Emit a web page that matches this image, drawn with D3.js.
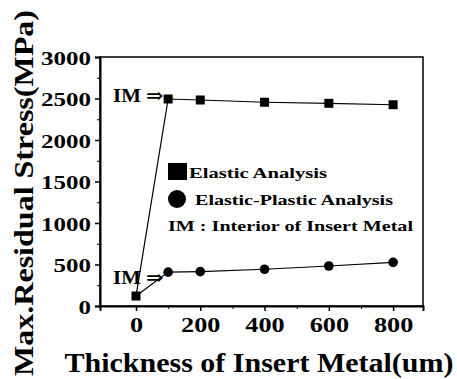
<!DOCTYPE html>
<html>
<head>
<meta charset="utf-8">
<script src="https://cdn.jsdelivr.net/npm/d3@7"></script>
<style>
  html, body { margin: 0; padding: 0; background: #fff; }
  svg { display: block; }
  text { font-family: "Liberation Serif", "Times New Roman", "DejaVu Serif", serif; font-weight: bold; fill: #000; }
</style>
</head>
<body>
<svg id="chart" width="457" height="379"></svg>
<script>
// Insert metal thickness (um) and maximum residual stress (MPa)
const thickness = [0, 100, 200, 400, 600, 800];
const elasticStress = [120, 2494, 2482, 2455, 2442, 2425];
const elasticPlasticStress = [120, 408, 414, 443, 482, 526];

const xMajorTicks = [0, 200, 400, 600, 800];
const xMinorTicks = [100, 300, 500, 700];
const yMajorTicks = [0, 500, 1000, 1500, 2000, 2500, 3000];
const yMinorTicks = [250, 750, 1250, 1750, 2250, 2750];

const legendLabels = ["Elastic Analysis", "Elastic-Plastic Analysis", "IM : Interior of Insert Metal"];
const annotationText = "IM \u21D2";

const svg = d3.select("#chart");
const plot = { left: 100, right: 423, top: 57, bottom: 306 };

const x = d3.scaleLinear().domain([-112, 893]).range([plot.left, plot.right]);
const y = d3.scaleLinear().domain([0, 3000]).range([plot.bottom, plot.top]);

// widen glyphs horizontally by a factor
function stretch(sel, k) {
  sel.each(function () {
    const w = this.getComputedTextLength();
    d3.select(this).attr("textLength", w * k).attr("lengthAdjust", "spacingAndGlyphs");
  });
}

// frame
svg.append("rect")
  .attr("x", plot.left).attr("y", plot.top)
  .attr("width", plot.right - plot.left).attr("height", plot.bottom - plot.top)
  .attr("fill", "none").attr("stroke", "#000").attr("stroke-width", 1.5);

// y axis
const yAxis = svg.append("g").attr("transform", `translate(${plot.left},0)`)
  .call(d3.axisLeft(y).tickValues(yMajorTicks).tickSize(5).tickPadding(4).tickFormat(d3.format("d")));
yAxis.select(".domain").attr("stroke-width", 2);
yAxis.selectAll(".tick line").attr("stroke-width", 1.5);
yAxis.selectAll(".tick text")
  .style("font-size", "18.5px").style("font-family", null).attr("dy", "0.38em")
  .call(stretch, 1.35);

svg.append("g").attr("transform", `translate(${plot.left},0)`)
  .call(d3.axisLeft(y).tickValues(yMinorTicks).tickSize(3).tickFormat(""))
  .call(g => g.select(".domain").remove());

// x axis
const xAxis = svg.append("g").attr("transform", `translate(0,${plot.bottom})`)
  .call(d3.axisBottom(x).tickValues(xMajorTicks).tickSize(5).tickPadding(6).tickFormat(d3.format("d")));
xAxis.select(".domain").attr("stroke-width", 2);
xAxis.selectAll(".tick line").attr("stroke-width", 1.5);
xAxis.selectAll(".tick text")
  .style("font-size", "21px").style("font-family", null)
  .call(stretch, 1.25);

svg.append("g").attr("transform", `translate(0,${plot.bottom})`)
  .call(d3.axisBottom(x).tickValues(xMinorTicks).tickSize(3).tickFormat(""))
  .call(g => g.select(".domain").remove());

// axis titles
svg.append("text")
  .attr("transform", "translate(33,193) rotate(-90)")
  .attr("text-anchor", "middle")
  .style("font-size", "27px")
  .attr("textLength", 366).attr("lengthAdjust", "spacingAndGlyphs")
  .text("Max.Residual Stress(MPa)");

svg.append("text")
  .attr("x", 259).attr("y", 372)
  .attr("text-anchor", "middle")
  .style("font-size", "27px")
  .attr("textLength", 389).attr("lengthAdjust", "spacingAndGlyphs")
  .text("Thickness of Insert Metal(um)");

// series
const line = d3.line().x(d => x(d[0])).y(d => y(d[1]));
const elasticPts = thickness.map((t, i) => [t, elasticStress[i]]);
const plasticPts = thickness.map((t, i) => [t, elasticPlasticStress[i]]);

svg.append("path").datum(elasticPts).attr("d", line)
  .attr("fill", "none").attr("stroke", "#000").attr("stroke-width", 1.2);
svg.append("path").datum(plasticPts).attr("d", line)
  .attr("fill", "none").attr("stroke", "#000").attr("stroke-width", 1.2);

const sq = 9;
svg.selectAll("rect.elastic").data(elasticPts).enter().append("rect")
  .attr("class", "elastic")
  .attr("x", d => x(d[0]) - sq / 2).attr("y", d => y(d[1]) - sq / 2)
  .attr("width", sq).attr("height", sq).attr("fill", "#000");

svg.selectAll("circle.plastic").data(plasticPts.slice(1)).enter().append("circle")
  .attr("class", "plastic")
  .attr("cx", d => x(d[0])).attr("cy", d => y(d[1])).attr("r", 4.8).attr("fill", "#000");

// annotations pointing at the first interior point
svg.append("text").attr("x", 113).attr("y", 102).style("font-size", "19px")
  .text(annotationText).call(stretch, 1.1);
svg.append("text").attr("x", 113).attr("y", 284).style("font-size", "19px")
  .text(annotationText).call(stretch, 1.1);

// legend
svg.append("rect").attr("x", 168).attr("y", 163).attr("width", 19).attr("height", 17).attr("fill", "#000");
svg.append("circle").attr("cx", 177).attr("cy", 199).attr("r", 9).attr("fill", "#000");

const legendPos = [[189, 178, 138], [195, 205, 198], [168, 231, 245]];
legendLabels.forEach((label, i) => {
  svg.append("text")
    .attr("x", legendPos[i][0]).attr("y", legendPos[i][1])
    .style("font-size", "15px")
    .attr("textLength", legendPos[i][2]).attr("lengthAdjust", "spacingAndGlyphs")
    .text(label);
});
</script>
</body>
</html>
